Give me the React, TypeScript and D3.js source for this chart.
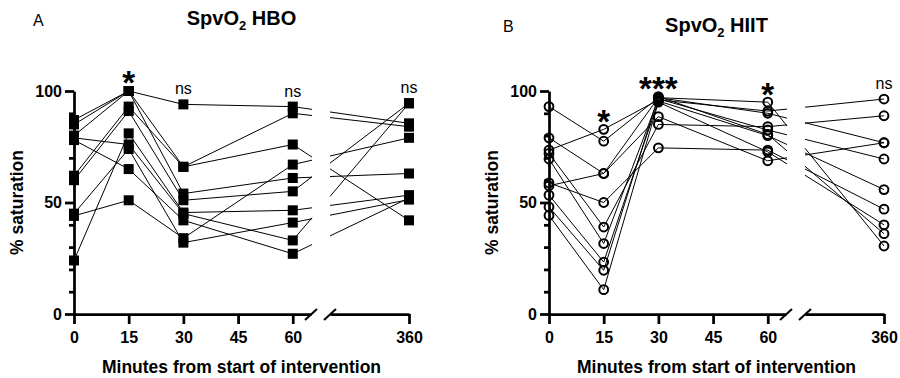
import React, { useEffect, useRef } from 'react';
import * as d3 from 'd3';

// time points (minutes) and axis ticks
const times = [0, 15, 30, 60, 360];
const xTicksLeft = [0, 15, 30, 45, 60];
const xTicksRight = [360];
const yMajor = [0, 50, 100];
const yMinor = [10, 20, 30, 40, 60, 70, 80, 90];

// HBO, one value per subject at each time point
const hbo0 = [87, 85, 62, 80, 60, 24, 79, 78, 44, 45];
const hbo15 = [100, 100, 93, 100, 91, 81, 76, 65, 51, 74];
const hbo30 = [94, 66, 66, 54, 51, 45.5, 45, 42, 34, 32];
const hbo60 = [93, 90, 76, 61, 55, 46.5, 33, 27, 67, 41];
const hbo360 = [85.5, 84, 42, 63, 94.5, 53.3, 94.5, 52, 79, 51.3];
const hboSig = ['', '*', 'ns', 'ns', 'ns'];

// HIIT
const hiit0 = [93, 73.5, 79, 57.5, 58.8, 72, 69.5, 53.3, 48, 44.2];
const hiit15 = [77.5, 82.8, 63, 63, 50, 39, 31.6, 23.3, 19.6, 10.9];
const hiit30 = [97, 96, 97, 88.5, 74.5, 85, 96.5, 95.5, 97.5, 95];
const hiit60 = [95, 91, 90, 68.7, 73.5, 84, 82.5, 80, 80.5, 72.7];
const hiit360 = [30.5, 96.4, 76.8, 76.8, 47, 88.9, 69.5, 55.8, 36, 40];
const hiitSig = ['', '*', '***', '*', 'ns'];

const FONT = "'Liberation Sans', Arial, Helvetica, sans-serif";

const panels = [
  { letter: 'A', name: 'HBO', cols: [hbo0, hbo15, hbo30, hbo60, hbo360], sig: hboSig, marker: 'square', dx: 0, titleY: 25, letterX: 33, letterY: 26 },
  { letter: 'B', name: 'HIIT', cols: [hiit0, hiit15, hiit30, hiit60, hiit360], sig: hiitSig, marker: 'circle', dx: 475, titleY: 31.5, letterX: 28, letterY: 32 },
];

const App = () => {
  const svgRef = useRef<SVGSVGElement>(null);
  const width = 900;
  const height = 378;

  useEffect(() => {
    const svg = d3.select(svgRef.current)
      .attr('width', width)
      .attr('height', height)
      .attr('font-family', FONT);
    svg.selectAll('*').remove();

    const y = d3.scaleLinear().domain([0, 100]).range([314, 91]);
    const xL = d3.scaleLinear().domain([0, 65]).range([74, 311]);
    const xR = d3.scaleLinear().domain([340, 360]).range([330, 409]);
    const xOf = (t: number) => (t <= 65 ? xL(t) : xR(t));
    const cx = (xL(0) + xR(360)) / 2;

    panels.forEach(p => {
      const g = svg.append('g').attr('transform', `translate(${p.dx},0)`);

      // axes
      const styleAxis = (a: any) => {
        a.attr('font-family', FONT).attr('font-size', 16).attr('font-weight', 'bold');
        a.selectAll('.domain, .tick line').attr('stroke', '#000').attr('stroke-width', 2.75);
        a.selectAll('text').attr('fill', '#000');
      };
      const yAx = g.append('g').attr('transform', `translate(${xL(0)},0)`)
        .call(d3.axisLeft(y).tickValues(yMajor).tickSize(9).tickSizeOuter(0).tickPadding(3));
      styleAxis(yAx);
      const yMin = g.append('g').attr('transform', `translate(${xL(0)},0)`)
        .call(d3.axisLeft(y).tickValues(yMinor).tickSize(5).tickFormat(() => ''));
      yMin.select('.domain').remove();
      styleAxis(yMin);

      const xa1 = g.append('g').attr('transform', `translate(0,${y(0)})`)
        .call(d3.axisBottom(xL).tickValues(xTicksLeft).tickSize(10).tickSizeOuter(0).tickPadding(8));
      styleAxis(xa1);
      const xa2 = g.append('g').attr('transform', `translate(0,${y(0)})`)
        .call(d3.axisBottom(xR).tickValues(xTicksRight).tickSize(10).tickSizeOuter(0).tickPadding(8));
      styleAxis(xa2);

      // break marks
      [xL(65), xR(340)].forEach(bx => {
        g.append('line')
          .attr('x1', bx - 6).attr('y1', y(0) + 6)
          .attr('x2', bx + 6).attr('y2', y(0) - 5)
          .attr('stroke', '#000').attr('stroke-width', 2);
      });

      // subject lines
      const line = d3.line();
      const n = p.cols[0].length;
      const gapA = xL(65) + 1;
      const gapB = xR(340);
      for (let i = 0; i < n; i++) {
        const pts: [number, number][] = times.map((t, k) => [xOf(t), y(p.cols[k][i])]);
        const [x60, y60] = pts[3];
        const [x360, y360] = pts[4];
        const at = (xx: number) => y60 + (y360 - y60) * (xx - x60) / (x360 - x60);
        const left: [number, number][] = [...pts.slice(0, 4), [gapA, at(gapA)]];
        const right: [number, number][] = [[gapB, at(gapB)], pts[4]];
        [left, right].forEach(seg => {
          g.append('path').attr('d', line(seg))
            .attr('fill', 'none').attr('stroke', '#000').attr('stroke-width', 1);
        });
      }

      // markers
      times.forEach((t, k) => {
        p.cols[k].forEach(v => {
          if (p.marker === 'square') {
            g.append('rect')
              .attr('x', xOf(t) - 5).attr('y', y(v) - 5)
              .attr('width', 10).attr('height', 10)
              .attr('fill', '#000');
          } else {
            g.append('circle')
              .attr('cx', xOf(t)).attr('cy', y(v)).attr('r', 4.4)
              .attr('fill', 'none').attr('stroke', '#000').attr('stroke-width', 2);
          }
        });
      });

      // significance labels
      times.forEach((t, k) => {
        const s = p.sig[k];
        if (!s) return;
        const top = y(d3.max(p.cols[k]) as number);
        if (s === 'ns') {
          g.append('text').text(s)
            .attr('x', xOf(t)).attr('y', top - 10)
            .attr('text-anchor', 'middle').attr('font-size', 16);
        } else {
          g.append('text').text(s)
            .attr('x', xOf(t)).attr('y', top - 9 + 12.4)
            .attr('text-anchor', 'middle').attr('font-size', 33).attr('font-weight', 'bold');
        }
      });

      // panel letter
      g.append('text').text(p.letter)
        .attr('x', p.letterX).attr('y', p.letterY)
        .attr('font-size', 16);

      // title
      const title = g.append('text')
        .attr('x', cx).attr('y', p.titleY)
        .attr('text-anchor', 'middle')
        .attr('font-size', 20).attr('font-weight', 'bold');
      title.append('tspan').text('SpvO');
      title.append('tspan').text('2').attr('font-size', 13).attr('dy', 5);
      title.append('tspan').text(` ${p.name}`).attr('dy', -5);

      // axis titles
      g.append('text').text('% saturation')
        .attr('transform', `translate(23,${(y(0) + y(100)) / 2}) rotate(-90)`)
        .attr('text-anchor', 'middle')
        .attr('font-size', 17.5).attr('font-weight', 'bold');
      g.append('text').text('Minutes from start of intervention')
        .attr('x', cx).attr('y', 373)
        .attr('text-anchor', 'middle')
        .attr('font-size', 17.5).attr('font-weight', 'bold');
    });
  }, []);

  return (
    <svg ref={svgRef} style={{ position: 'absolute', left: 0, top: 0, background: '#fff' }}></svg>
  );
};

export default App;
